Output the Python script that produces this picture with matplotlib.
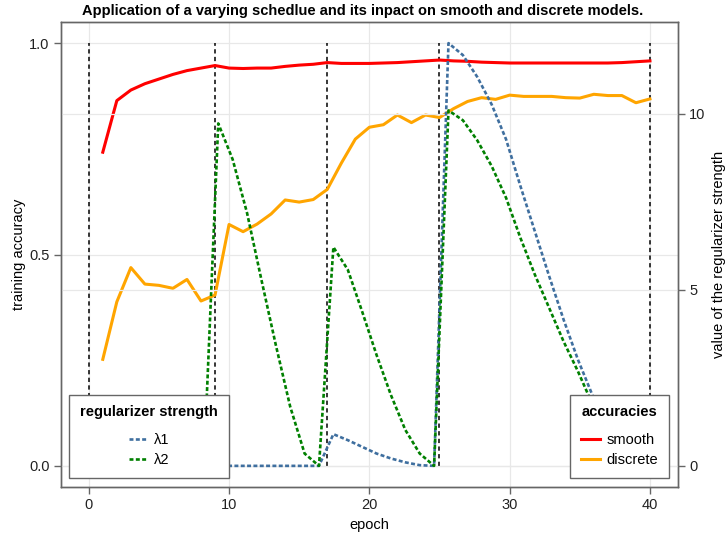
"""Accuracy curves and regularizer schedule on twin y axes."""

import matplotlib

matplotlib.use("Agg")
import matplotlib.pyplot as plt
import numpy as np

plt.rcParams["font.family"] = ["Liberation Sans", "DejaVu Sans"]

# accuracies, one value per epoch 1..40
epochs = np.arange(1, 41)
smooth_acc = [
    0.742, 0.864, 0.889, 0.904, 0.915, 0.926, 0.935, 0.941, 0.947, 0.941,
    0.940, 0.941, 0.941, 0.945, 0.948, 0.950, 0.954, 0.952, 0.952, 0.952,
    0.953, 0.954, 0.956, 0.958, 0.960, 0.958, 0.957, 0.955, 0.954, 0.953,
    0.953, 0.953, 0.953, 0.953, 0.953, 0.953, 0.953, 0.954, 0.956, 0.958,
]
discrete_acc = [
    0.252, 0.388, 0.469, 0.430, 0.427, 0.420, 0.441, 0.390, 0.404, 0.571,
    0.554, 0.572, 0.596, 0.629, 0.624, 0.630, 0.654, 0.716, 0.773, 0.801,
    0.807, 0.830, 0.812, 0.830, 0.824, 0.845, 0.862, 0.871, 0.867, 0.877,
    0.874, 0.874, 0.874, 0.871, 0.870, 0.879, 0.876, 0.876, 0.859, 0.868,
]

# regularizer schedule, 40 samples spread over epochs 0..40
lambda_epochs = np.linspace(0, 40, 40)
lambda1 = [
    0, 0, 0, 0, 0, 0, 0, 0, 0, 0,
    0, 0, 0, 0, 0, 0, 0, 0.90, 0.73, 0.54,
    0.35, 0.21, 0.10, 0.02, 0, 12.0, 11.66, 11.04, 10.26, 9.27,
    7.94, 6.66, 5.38, 4.15, 3.01, 2.01, 1.1, 0.5, 0.15, 0,
]
lambda2 = [
    0, 0, 0, 0, 0, 0, 0, 0, 0, 9.72,
    8.70, 7.18, 5.28, 3.43, 1.68, 0.35, 0, 6.21, 5.57, 4.38,
    3.15, 2.01, 1.02, 0.35, 0, 10.09, 9.81, 9.24, 8.51, 7.61,
    6.47, 5.43, 4.48, 3.53, 2.68, 1.75, 1.0, 0.45, 0.12, 0,
]

# epochs where the schedule changes
schedule_marks = [0, 9, 17, 25, 40]

W, H = 726, 536
fig = plt.figure(figsize=(W / 100, H / 100), dpi=100)
ax = fig.add_axes([60.7 / W, (H - 487) / H, 617.3 / W, 465 / H])
ax2 = ax.twinx()

spine_color = "#666666"
grid_color = "#e8e8e8"

ax.vlines(schedule_marks, 0, 1, colors="black", linewidth=1.1,
          linestyles=(0, (2.8, 2.2)), zorder=2)
smooth_line, = ax.plot(epochs, smooth_acc, color="#ff0000", linewidth=2.2,
                       label="smooth", zorder=3)
discrete_line, = ax.plot(epochs, discrete_acc, color="#ffa500", linewidth=2.2,
                         label="discrete", zorder=3)

l1_line, = ax2.plot(lambda_epochs, lambda1, color="#3f6f9f", linewidth=1.9,
                    linestyle=(0, (1.5, 0.9)), label="λ1", zorder=3)
l2_line, = ax2.plot(lambda_epochs, lambda2, color="#008000", linewidth=1.9,
                    linestyle=(0, (1.5, 0.9)), label="λ2", zorder=3)

ax.set_xlim(-2, 42)
ax.set_ylim(-0.05, 1.05)
ax2.set_ylim(-0.6, 12.6)
ax.set_xticks([0, 10, 20, 30, 40])
ax.set_yticks([0.0, 0.5, 1.0])
ax.set_yticklabels(["0.0", "0.5", "1.0"])
ax2.set_yticks([0, 5, 10])

for a in (ax, ax2):
    for s in a.spines.values():
        s.set_color(spine_color)
        s.set_linewidth(1.0)
    a.tick_params(direction="out", length=5, width=1, color=spine_color,
                  labelsize=10.5, labelcolor="#222222", pad=3)

ax.grid(True, color=grid_color, linewidth=0.9, zorder=0)
ax2.grid(True, axis="y", color=grid_color, linewidth=0.9, zorder=0)
ax.set_axisbelow(True)
ax2.set_axisbelow(True)

ax.set_xlabel("epoch", fontsize=10.5, labelpad=4)
ax.set_ylabel("training accuracy", fontsize=10.5, labelpad=2)
ax2.set_ylabel("value of the regularizer strength", fontsize=10.5, labelpad=5)
ax.set_title("Application of a varying schedlue and its inpact on smooth and discrete models.",
             fontsize=10.5, fontweight="bold", pad=5, x=0.489)

legend_kw = dict(fontsize=10.5, frameon=True, fancybox=False, framealpha=1,
                 edgecolor="#666666", facecolor="white", handlelength=1.3,
                 handletextpad=0.45, labelspacing=0.42, borderpad=0.75,
                 borderaxespad=0)


def finish_legend(leg):
    leg.get_title().set_fontweight("bold")
    leg.get_title().set_fontsize(10.5)
    leg.get_frame().set_linewidth(1.0)
    # more room between the bold title and the entries
    leg._legend_box.sep = 9.5
    return leg


leg_lambda = finish_legend(ax2.legend(
    handles=[l1_line, l2_line], title="regularizer strength",
    loc="lower left", bbox_to_anchor=(0.014, 0.02), **legend_kw))
ax2.add_artist(leg_lambda)

leg_acc = finish_legend(ax2.legend(
    handles=[smooth_line, discrete_line], title="accuracies",
    loc="lower right", bbox_to_anchor=(0.986, 0.02), **legend_kw))

fig.savefig("out.png", dpi=100)
